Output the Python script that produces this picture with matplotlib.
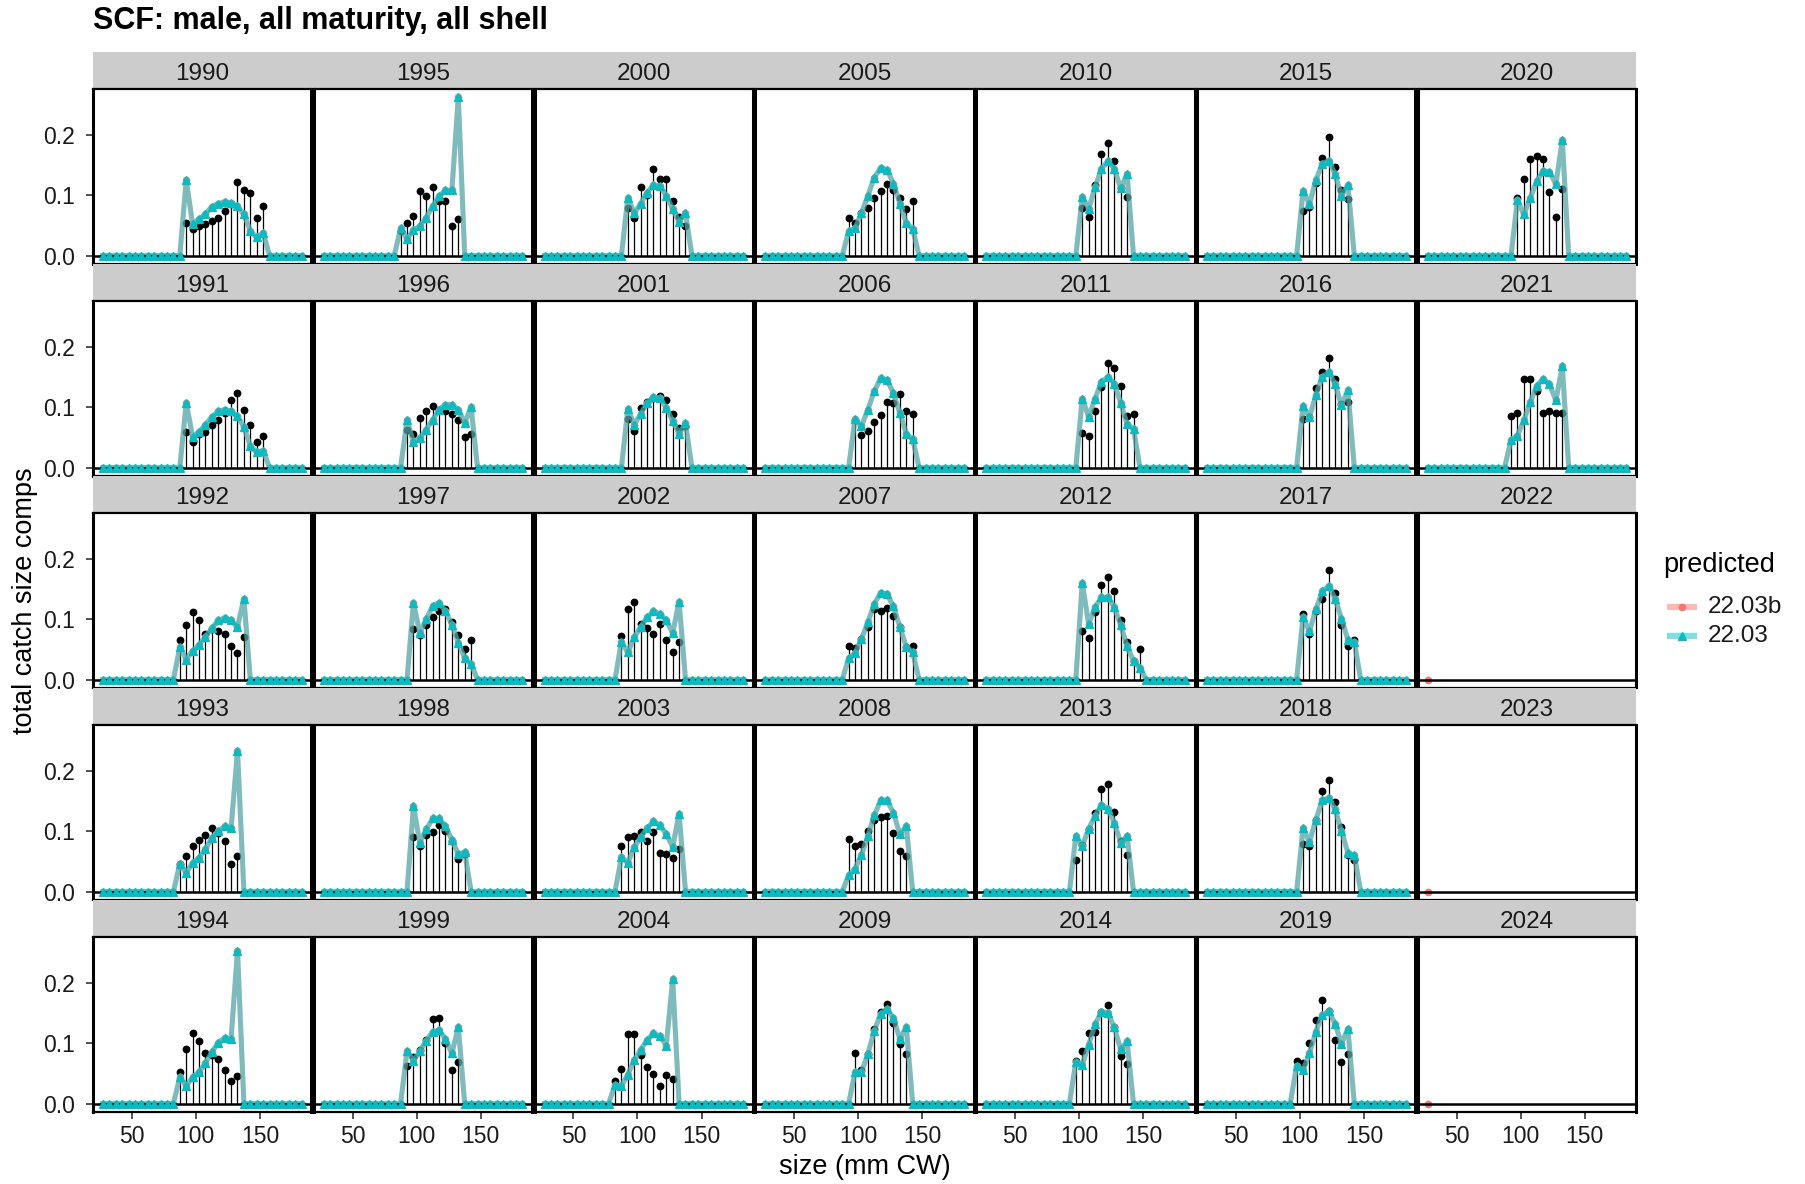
import numpy as np
import matplotlib.pyplot as plt

plt.rcParams['font.family'] = ['Liberation Sans', 'DejaVu Sans']

# size bins (mm CW)
sizes = np.arange(27.5, 183, 5.0)

# first non-zero size bin in each year
first_bin = {
    1990: 92.5, 1991: 92.5, 1992: 87.5, 1993: 87.5, 1994: 87.5,
    1995: 87.5, 1996: 92.5, 1997: 97.5, 1998: 97.5, 1999: 92.5,
    2000: 92.5, 2001: 92.5, 2002: 87.5, 2003: 87.5, 2004: 82.5,
    2005: 92.5, 2006: 97.5, 2007: 92.5, 2008: 92.5, 2009: 97.5,
    2010: 102.5, 2011: 102.5, 2012: 102.5, 2013: 97.5, 2014: 97.5,
    2015: 102.5, 2016: 102.5, 2017: 102.5, 2018: 102.5, 2019: 97.5,
    2020: 97.5, 2021: 92.5,
}

observed = {
    1990: [0.054, 0.044, 0.049, 0.052, 0.057, 0.063, 0.074, 0.085, 0.121, 0.108, 0.103, 0.063, 0.082],
    1991: [0.059, 0.042, 0.055, 0.059, 0.071, 0.078, 0.090, 0.112, 0.124, 0.096, 0.070, 0.043, 0.053],
    1992: [0.066, 0.091, 0.112, 0.099, 0.075, 0.084, 0.080, 0.076, 0.055, 0.044, 0.070],
    1993: [0.045, 0.059, 0.076, 0.086, 0.093, 0.105, 0.097, 0.084, 0.045, 0.059],
    1994: [0.052, 0.091, 0.117, 0.104, 0.084, 0.080, 0.073, 0.056, 0.037, 0.045],
    1995: [0.040, 0.054, 0.066, 0.107, 0.098, 0.113, 0.090, 0.090, 0.049, 0.060],
    1996: [0.062, 0.055, 0.082, 0.094, 0.102, 0.096, 0.093, 0.089, 0.078, 0.050, 0.056],
    1997: [0.084, 0.073, 0.091, 0.103, 0.114, 0.117, 0.095, 0.073, 0.050, 0.065],
    1998: [0.090, 0.075, 0.093, 0.098, 0.110, 0.100, 0.084, 0.054, 0.062],
    1999: [0.063, 0.077, 0.088, 0.105, 0.140, 0.142, 0.101, 0.055, 0.068],
    2000: [0.078, 0.062, 0.114, 0.100, 0.143, 0.126, 0.126, 0.090, 0.064, 0.049],
    2001: [0.081, 0.060, 0.099, 0.108, 0.115, 0.119, 0.112, 0.089, 0.066, 0.068],
    2002: [0.072, 0.117, 0.129, 0.092, 0.085, 0.076, 0.092, 0.066, 0.046, 0.063],
    2003: [0.076, 0.090, 0.092, 0.098, 0.084, 0.098, 0.064, 0.062, 0.056, 0.070],
    2004: [0.038, 0.057, 0.115, 0.115, 0.080, 0.060, 0.049, 0.029, 0.048, 0.040],
    2005: [0.062, 0.054, 0.070, 0.078, 0.096, 0.107, 0.118, 0.109, 0.095, 0.077, 0.090],
    2006: [0.078, 0.054, 0.061, 0.075, 0.087, 0.108, 0.107, 0.122, 0.093, 0.089],
    2007: [0.055, 0.052, 0.067, 0.087, 0.117, 0.113, 0.119, 0.106, 0.087, 0.054, 0.056],
    2008: [0.087, 0.075, 0.079, 0.101, 0.118, 0.123, 0.125, 0.097, 0.067, 0.059],
    2009: [0.084, 0.055, 0.082, 0.123, 0.152, 0.164, 0.134, 0.098, 0.082],
    2010: [0.078, 0.064, 0.116, 0.168, 0.187, 0.157, 0.111, 0.097],
    2011: [0.057, 0.053, 0.094, 0.133, 0.173, 0.165, 0.135, 0.085, 0.089],
    2012: [0.081, 0.069, 0.112, 0.156, 0.170, 0.146, 0.099, 0.062, 0.031, 0.051],
    2013: [0.052, 0.077, 0.103, 0.130, 0.170, 0.178, 0.132, 0.084, 0.060],
    2014: [0.071, 0.087, 0.116, 0.119, 0.152, 0.163, 0.126, 0.078, 0.066],
    2015: [0.074, 0.080, 0.120, 0.161, 0.196, 0.146, 0.108, 0.093],
    2016: [0.081, 0.083, 0.131, 0.158, 0.181, 0.146, 0.105, 0.108],
    2017: [0.109, 0.076, 0.113, 0.134, 0.182, 0.144, 0.091, 0.055, 0.066],
    2018: [0.078, 0.075, 0.119, 0.166, 0.184, 0.148, 0.107, 0.060, 0.053],
    2019: [0.070, 0.067, 0.100, 0.138, 0.172, 0.153, 0.105, 0.069, 0.082],
    2020: [0.095, 0.127, 0.160, 0.165, 0.159, 0.105, 0.064, 0.110],
    2021: [0.086, 0.090, 0.147, 0.146, 0.127, 0.091, 0.094, 0.090, 0.090],
}

# model 22.03 (22.03b lies on top of it)
predicted = {
    1990: [0.125, 0.052, 0.060, 0.069, 0.081, 0.086, 0.089, 0.087, 0.082, 0.068, 0.041, 0.030, 0.038],
    1991: [0.107, 0.051, 0.059, 0.071, 0.084, 0.093, 0.096, 0.093, 0.085, 0.067, 0.036, 0.025, 0.028],
    1992: [0.054, 0.033, 0.048, 0.057, 0.071, 0.085, 0.098, 0.102, 0.098, 0.087, 0.134],
    1993: [0.046, 0.031, 0.048, 0.056, 0.070, 0.089, 0.100, 0.108, 0.105, 0.233],
    1994: [0.044, 0.029, 0.044, 0.052, 0.067, 0.085, 0.101, 0.109, 0.107, 0.253],
    1995: [0.045, 0.028, 0.042, 0.049, 0.063, 0.082, 0.098, 0.108, 0.108, 0.262],
    1996: [0.079, 0.042, 0.049, 0.063, 0.079, 0.096, 0.104, 0.104, 0.096, 0.074, 0.100],
    1997: [0.127, 0.077, 0.100, 0.122, 0.127, 0.113, 0.091, 0.061, 0.035, 0.026],
    1998: [0.141, 0.081, 0.103, 0.121, 0.121, 0.108, 0.086, 0.062, 0.065],
    1999: [0.087, 0.071, 0.087, 0.104, 0.119, 0.121, 0.107, 0.083, 0.127],
    2000: [0.096, 0.070, 0.086, 0.104, 0.117, 0.115, 0.099, 0.077, 0.056, 0.070],
    2001: [0.097, 0.071, 0.089, 0.107, 0.117, 0.115, 0.099, 0.077, 0.056, 0.073],
    2002: [0.063, 0.045, 0.070, 0.087, 0.103, 0.113, 0.109, 0.098, 0.077, 0.129],
    2003: [0.057, 0.048, 0.073, 0.090, 0.105, 0.116, 0.110, 0.095, 0.074, 0.129],
    2004: [0.031, 0.029, 0.048, 0.072, 0.089, 0.105, 0.116, 0.112, 0.096, 0.206],
    2005: [0.040, 0.045, 0.070, 0.099, 0.129, 0.145, 0.142, 0.119, 0.086, 0.054, 0.044],
    2006: [0.081, 0.068, 0.096, 0.126, 0.148, 0.145, 0.123, 0.090, 0.056, 0.047],
    2007: [0.035, 0.044, 0.067, 0.095, 0.125, 0.144, 0.141, 0.121, 0.087, 0.054, 0.045],
    2008: [0.027, 0.038, 0.060, 0.092, 0.126, 0.151, 0.151, 0.130, 0.095, 0.108],
    2009: [0.052, 0.052, 0.082, 0.120, 0.149, 0.157, 0.141, 0.107, 0.126],
    2010: [0.097, 0.077, 0.113, 0.144, 0.156, 0.144, 0.111, 0.135],
    2011: [0.114, 0.084, 0.114, 0.142, 0.150, 0.139, 0.107, 0.072, 0.064],
    2012: [0.160, 0.092, 0.120, 0.136, 0.136, 0.120, 0.090, 0.055, 0.031, 0.019],
    2013: [0.092, 0.075, 0.104, 0.125, 0.144, 0.137, 0.114, 0.081, 0.092],
    2014: [0.069, 0.064, 0.097, 0.131, 0.152, 0.150, 0.126, 0.090, 0.103],
    2015: [0.107, 0.085, 0.125, 0.152, 0.157, 0.135, 0.098, 0.117],
    2016: [0.102, 0.083, 0.120, 0.150, 0.158, 0.138, 0.103, 0.128],
    2017: [0.103, 0.080, 0.116, 0.146, 0.155, 0.134, 0.101, 0.066, 0.062],
    2018: [0.105, 0.082, 0.119, 0.151, 0.155, 0.136, 0.100, 0.064, 0.060],
    2019: [0.063, 0.055, 0.083, 0.119, 0.146, 0.153, 0.132, 0.099, 0.124],
    2020: [0.092, 0.068, 0.095, 0.123, 0.140, 0.139, 0.118, 0.191],
    2021: [0.046, 0.053, 0.078, 0.108, 0.135, 0.147, 0.138, 0.111, 0.168],
}

# 22.03b has a single point in the last years
extra_b_size = 27.5
extra_b = {2022: 0.0, 2023: 0.0, 2024: 0.0}

col_red = '#F8766D'
col_teal = '#00BFC4'
txt_col = '#1a1a1a'

W, H = 1806, 1184
fig = plt.figure(figsize=(W / 100, H / 100), dpi=100)

pan_w, gap = 218.5, 2.3
pan_h, row_step = 174.2, 212.0
x0, y0 = 93.0, 89.3

def fbox(left, top, w, h):
    return [left / W, 1 - (top + h) / H, w / W, h / H]

for r in range(5):
    # strip row
    sax = fig.add_axes(fbox(x0, y0 - 37.6 + r * row_step, 7 * pan_w + 6 * gap, 37.6))
    sax.set_facecolor('#CCCCCC')
    sax.set_xlim(0, 7 * pan_w + 6 * gap)
    sax.set_ylim(0, 1)
    sax.set_xticks([])
    sax.set_yticks([])
    for s in sax.spines.values():
        s.set_visible(False)
    for c in range(7):
        yr = 1990 + 5 * c + r
        sax.text(c * (pan_w + gap) + pan_w / 2, 0.4, str(yr), ha='center', va='center',
                 fontsize=17.5, color=txt_col)

    for c in range(7):
        yr = 1990 + 5 * c + r
        ax = fig.add_axes(fbox(x0 + c * (pan_w + gap), y0 + r * row_step, pan_w, pan_h))
        ax.set_xlim(19.75, 190.25)
        ax.set_ylim(-0.0131, 0.2751)
        if yr in observed:
            k = int(round((first_bin[yr] - sizes[0]) / 5))
            obs = np.array(observed[yr])
            xs = sizes[k:k + len(obs)]
            ax.vlines(xs, 0, obs, color='black', lw=0.9, zorder=2)
            ax.plot(xs, obs, 'o', color='black', ms=4.6, zorder=2)
            full = np.zeros(len(sizes))
            full[k:k + len(predicted[yr])] = predicted[yr]
            ax.plot(sizes, full, color=col_red, lw=3.6, alpha=0.5, zorder=3,
                    solid_joinstyle='round')
            ax.plot(sizes, full, 'o', color=col_red, ms=4.5, zorder=4)
            ax.plot(sizes, full, color=col_teal, lw=3.6, alpha=0.5, zorder=5,
                    solid_joinstyle='round')
            ax.plot(sizes, full, '^', color=col_teal, ms=6.2, zorder=6)
        if yr in extra_b:
            ax.plot([extra_b_size], [extra_b[yr]], 'o', color=col_red, ms=4.5, zorder=4,
                    clip_on=False)
        ax.axhline(0, color='black', lw=1.8, zorder=5.5)

        for side, s in ax.spines.items():
            s.set_linewidth(2.2 if side in ('left', 'right') else 1.6)
            s.set_color('black')
            s.set_zorder(8)
        ax.tick_params(length=5, width=1.2, color='#333333', labelsize=16.5,
                       labelcolor=txt_col)
        ax.tick_params(axis='y', pad=8)
        ax.tick_params(axis='x', pad=5)
        if c == 0:
            ax.set_yticks([0, 0.1, 0.2])
            ax.set_yticklabels(['0.0', '0.1', '0.2'])
        else:
            ax.set_yticks([])
        if r == 4:
            ax.set_xticks([50, 100, 150])
            ax.set_xticklabels(['50', '100', '150'])
        else:
            ax.set_xticks([])

fig.text(93 / W, 1 - 21 / H, 'SCF: male, all maturity, all shell', fontsize=22,
         fontweight='bold', ha='left', va='center', color='black')
fig.text(864.5 / W, 1 - 1167 / H, 'size (mm CW)', fontsize=19.5, ha='center',
         va='center', color='black')
fig.text(25 / W, 1 - 601 / H, 'total catch size comps', fontsize=19.5, rotation=90,
         ha='center', va='center', color='black')

# legend
lax = fig.add_axes([0, 0, 1, 1], zorder=-1)
lax.set_xlim(0, W)
lax.set_ylim(H, 0)
lax.axis('off')
lax.text(1663, 565, 'predicted', fontsize=19.5, ha='left', va='center', color='black')
keys = [('22.03b', col_red, 'o', 4.5), ('22.03', col_teal, '^', 6.2)]
for i, (lab, col, mk, ms) in enumerate(keys):
    yy = 607 + i * 29
    lax.plot([1667, 1697], [yy, yy], color=col, lw=4.5, alpha=0.5, solid_capstyle='butt')
    lax.plot([1682], [yy], mk, color=col, ms=ms)
    lax.text(1708, yy, lab, fontsize=17.5, ha='left', va='center', color=txt_col)

fig.savefig('out.png', dpi=100)
